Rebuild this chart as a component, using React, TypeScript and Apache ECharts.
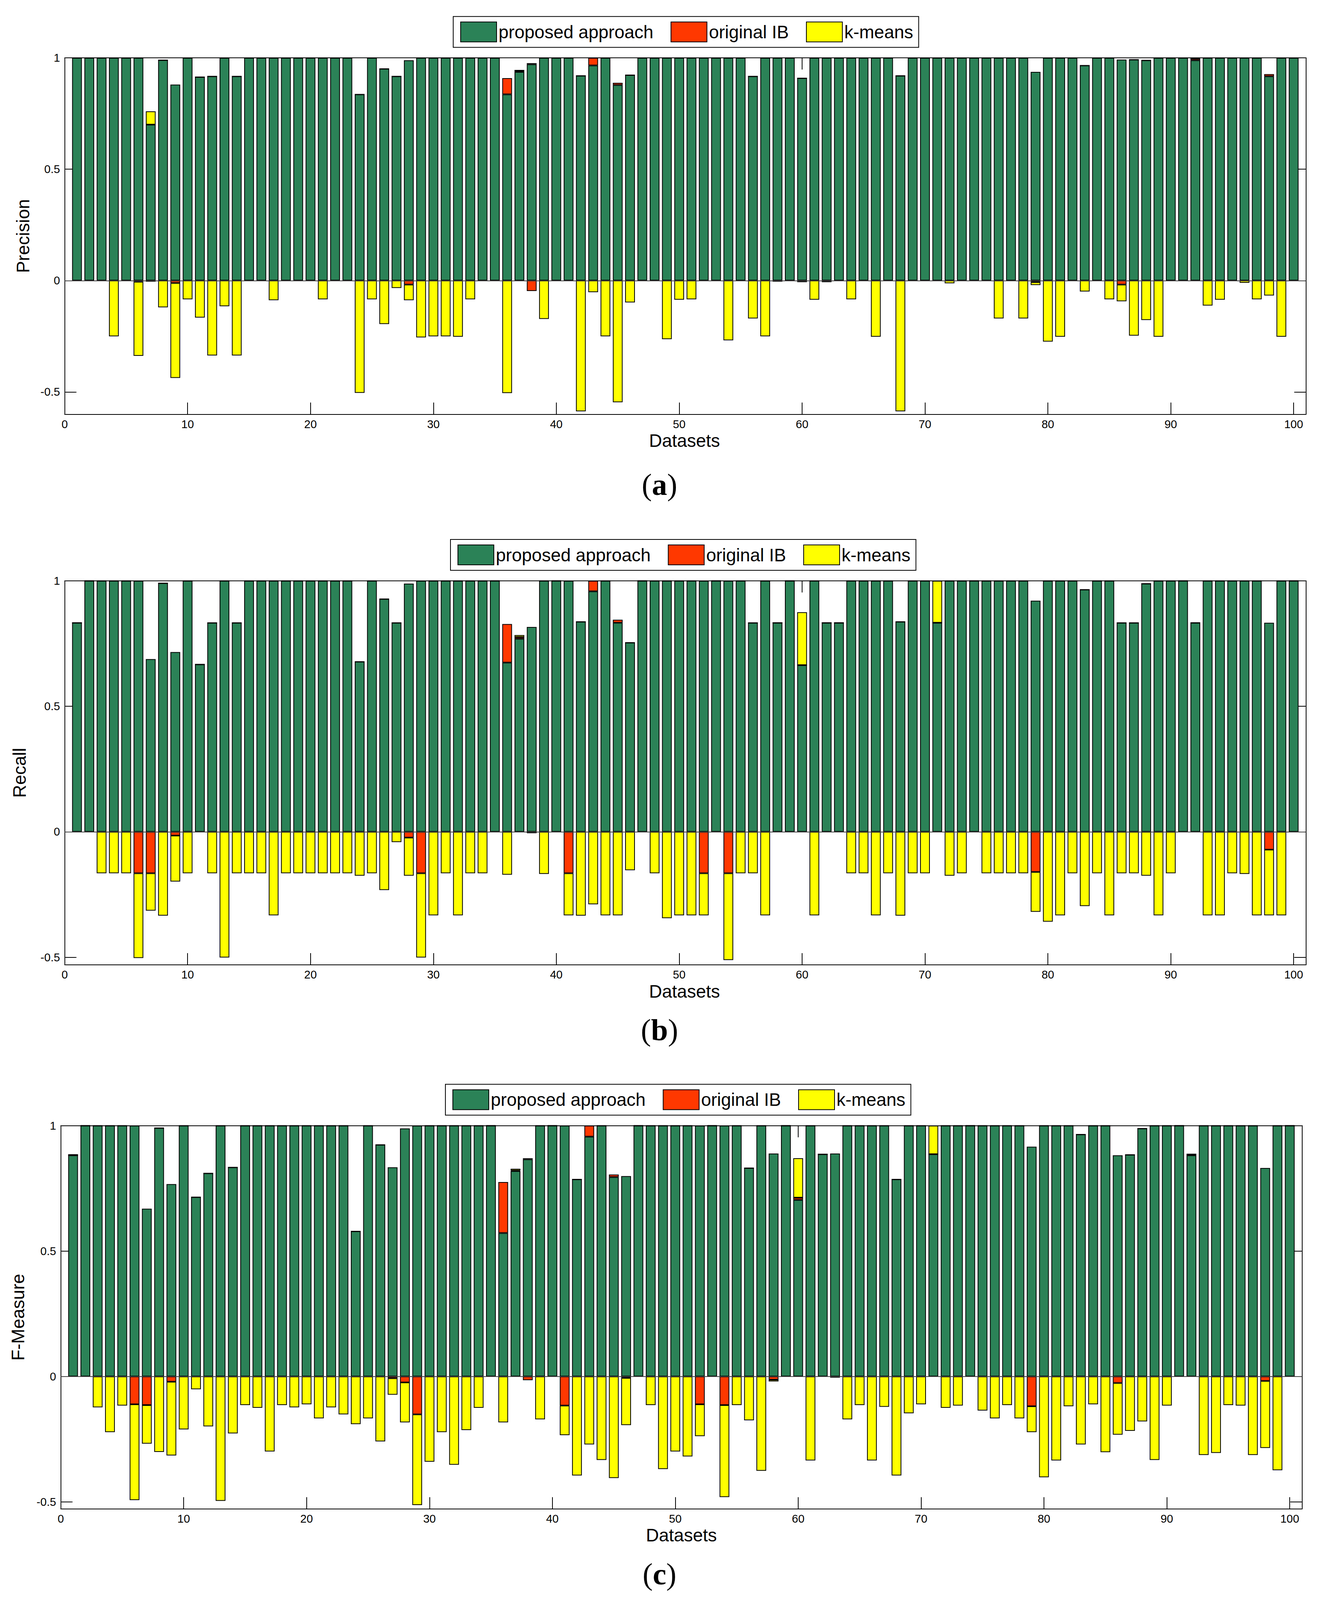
import React, { useEffect, useRef } from 'react';
import * as echarts from 'echarts';

// ---------- text / categories ----------
const SERIES_NAMES = ['proposed approach', 'original IB', 'k-means'];
const Y_LABELS = ['Precision', 'Recall', 'F-Measure'];
const CAPTION_LETTERS = ['a', 'b', 'c'];
const X_LABEL = 'Datasets';
const X_TICKS = [0, 10, 20, 30, 40, 50, 60, 70, 80, 90, 100];
const Y_TICKS = [-0.5, 0, 0.5, 1];
const Y_MINS = [-0.6, -0.53, -0.528];
const Y_MAX = 1;
const X_MIN = 0;
const X_MAX = 101;
// dataset positions 0..101 (0 and 101 are empty slots at the axis ends)
const X_CATEGORIES = Array.from({ length: 102 }, (_, k) => String(k));

// ---------- (a) Precision ----------
const precisionProposed = [
  1, 1, 1, 1, 1, 1, 0.70, 0.99, 0.88, 1,
  0.914, 0.917, 1, 0.917, 1, 1, 1, 1, 1, 1,
  1, 1, 1, 0.836, 1, 0.951, 0.917, 0.989, 1, 1,
  1, 1, 1, 1, 1, 0.836, 0.937, 0.971, 1, 1,
  1, 0.92, 0.966, 1, 0.878, 0.923, 1, 1, 1, 1,
  1, 1, 1, 1, 1, 0.917, 1, 1, 1, 0.909,
  1, 1, 1, 1, 1, 1, 1, 0.92, 1, 1,
  1, 1, 1, 1, 1, 1, 1, 1, 0.937, 1,
  1, 1, 0.966, 1, 1, 0.992, 0.992, 0.989, 1, 1,
  1, 0.989, 1, 1, 1, 1, 1, 0.917, 1, 1,
];
const precisionIB = [
  0, 0, 0, 0, 0, -0.005, -0.005, 0, -0.011, 0,
  0, 0, 0, 0, 0, 0, 0, 0, 0, 0,
  0, 0, 0, 0, 0, 0, 0, -0.018, 0, 0,
  0, 0, 0, 0, 0, 0.073, 0.007, -0.047, 0, 0,
  0, 0, 0.034, 0, 0.01, 0, 0, 0, 0, 0,
  0, 0, 0, 0, 0, 0, 0, 0, 0, 0,
  0, 0, 0, 0, 0, 0, 0, 0, 0, 0,
  0, 0, 0, 0, 0, 0, 0, 0, -0.007, 0,
  0, 0, 0, 0, 0, -0.018, 0, 0, 0, 0,
  0, 0.008, 0, 0, 0, 0, 0, 0.01, 0, 0,
];
const precisionKmeans = [
  0, 0, 0, -0.25, 0, -0.333, 0.06, -0.12, -0.426, -0.084,
  -0.166, -0.336, -0.115, -0.336, 0, 0, -0.088, 0, 0, 0,
  -0.084, 0, 0, -0.504, -0.084, -0.195, -0.033, -0.07, -0.255, -0.25,
  -0.25, -0.252, -0.084, 0, 0, -0.505, 0, 0.005, -0.172, 0,
  0, -0.587, -0.052, -0.25, -0.546, -0.098, 0, 0, -0.263, -0.086,
  -0.084, 0, 0, -0.268, 0, -0.17, -0.25, -0.005, 0, -0.007,
  -0.086, -0.007, 0, -0.084, 0, -0.252, 0, -0.587, 0, 0,
  0, -0.012, 0, 0, 0, -0.17, 0, -0.17, -0.013, -0.274,
  -0.252, 0, -0.049, 0, -0.084, -0.075, -0.247, -0.177, -0.252, 0,
  0, 0, -0.112, -0.086, 0, -0.01, -0.084, -0.067, -0.252, 0,
];

// ---------- (b) Recall ----------
const recallProposed = [
  0.833, 1, 1, 1, 1, 1, 0.688, 0.991, 0.716, 1,
  0.667, 0.833, 1, 0.833, 1, 1, 1, 1, 1, 1,
  1, 1, 1, 0.678, 1, 0.928, 0.833, 0.989, 1, 1,
  1, 1, 1, 1, 1, 0.674, 0.769, 0.816, 1, 1,
  1, 0.837, 0.958, 1, 0.833, 0.754, 1, 1, 1, 1,
  1, 1, 1, 1, 1, 0.833, 1, 0.833, 1, 0.664,
  1, 0.833, 0.833, 1, 1, 1, 1, 0.837, 1, 1,
  0.833, 1, 1, 1, 1, 1, 1, 1, 0.921, 1,
  1, 1, 0.965, 1, 1, 0.833, 0.833, 0.989, 1, 1,
  1, 0.833, 1, 1, 1, 1, 1, 0.833, 1, 1,
];
const recallIB = [
  0, 0, 0, 0, 0, -0.165, -0.165, 0, -0.015, 0,
  0, 0, 0, 0, 0, 0, 0, 0, 0, 0,
  0, 0, 0, 0, 0, 0, 0, -0.023, -0.165, 0,
  0, 0, 0, 0, 0, 0.154, 0.007, -0.004, 0, 0,
  -0.165, 0, 0.042, 0, 0.012, 0, 0, 0, 0, 0,
  0, -0.165, 0, -0.165, 0, 0, 0, 0, 0, 0,
  0, 0, 0, 0, 0, 0, 0, 0, 0, 0,
  0, 0, 0, 0, 0, 0, 0, 0, -0.16, 0,
  0, 0, 0, 0, 0, 0, 0, 0, 0, 0,
  0, 0, 0, 0, 0, 0, 0, -0.071, 0, 0,
];
const recallKmeans = [
  0, 0, -0.165, -0.165, -0.165, -0.338, -0.149, -0.334, -0.183, -0.165,
  0, -0.165, -0.501, -0.165, -0.165, -0.165, -0.333, -0.165, -0.165, -0.165,
  -0.165, -0.165, -0.165, -0.175, -0.165, -0.232, -0.041, -0.152, -0.336, -0.333,
  -0.165, -0.333, -0.165, -0.165, 0, -0.171, 0.008, 0, -0.168, 0,
  -0.168, -0.334, -0.289, -0.333, -0.333, -0.153, 0, -0.165, -0.344, -0.333,
  -0.333, -0.168, 0, -0.346, -0.165, -0.165, -0.333, 0, 0, 0.211,
  -0.333, 0, 0, -0.165, -0.165, -0.333, -0.165, -0.334, -0.165, -0.165,
  0.167, -0.175, -0.165, 0, -0.165, -0.165, -0.165, -0.165, -0.159, -0.358,
  -0.333, -0.165, -0.296, -0.165, -0.333, -0.165, -0.165, -0.175, -0.333, -0.165,
  0, 0, -0.333, -0.333, -0.165, -0.168, -0.333, -0.262, -0.333, 0,
];

// ---------- (c) F-Measure ----------
const fMeasureProposed = [
  0.882, 1, 1, 1, 1, 1, 0.669, 0.991, 0.767, 1,
  0.715, 0.81, 1, 0.834, 1, 1, 1, 1, 1, 1,
  1, 1, 1, 0.579, 1, 0.924, 0.834, 0.989, 1, 1,
  1, 1, 1, 1, 1, 0.572, 0.819, 0.866, 1, 1,
  1, 0.786, 0.956, 1, 0.795, 0.799, 1, 1, 1, 1,
  1, 1, 1, 1, 1, 0.831, 1, 0.889, 1, 0.704,
  1, 0.886, 0.889, 1, 1, 1, 1, 0.786, 1, 1,
  0.886, 1, 1, 1, 1, 1, 1, 1, 0.916, 1,
  1, 1, 0.965, 1, 1, 0.882, 0.884, 0.989, 1, 1,
  1, 0.882, 1, 1, 1, 1, 1, 0.831, 1, 1,
];
const fMeasureIB = [
  0, 0, 0, 0, 0, -0.111, -0.114, 0, -0.021, 0,
  0, 0, 0, 0, 0, 0, 0, 0, 0, 0,
  0, 0, 0, 0, 0, 0, -0.007, -0.024, -0.151, 0,
  0, 0, 0, 0, 0, 0.203, 0.002, -0.015, 0, 0,
  -0.116, 0, 0.044, 0, 0.01, -0.006, 0, 0, 0, 0,
  0, -0.111, 0, -0.114, 0, 0, 0, -0.013, 0, 0.009,
  0, 0, -0.003, 0, 0, 0, 0, 0, 0, 0,
  0, 0, 0, 0, 0, 0, 0, 0, -0.119, 0,
  0, 0, 0, 0, 0, -0.026, 0, 0, 0, 0,
  0, 0, 0, 0, 0, 0, 0, -0.018, 0, 0,
];
const fMeasureKmeans = [
  0.004, 0, -0.123, -0.222, -0.116, -0.382, -0.154, -0.301, -0.294, -0.211,
  -0.051, -0.199, -0.496, -0.227, -0.114, -0.125, -0.299, -0.114, -0.123, -0.111,
  -0.167, -0.123, -0.151, -0.19, -0.167, -0.259, -0.066, -0.159, -0.362, -0.34,
  -0.222, -0.352, -0.214, -0.125, 0, -0.183, 0.007, 0.004, -0.171, 0,
  -0.118, -0.395, -0.271, -0.333, -0.405, -0.188, 0, -0.114, -0.369, -0.299,
  -0.319, -0.127, 0, -0.367, -0.114, -0.175, -0.376, -0.007, 0, 0.157,
  -0.335, 0, 0, -0.171, -0.114, -0.335, -0.121, -0.395, -0.147, -0.111,
  0.114, -0.125, -0.116, 0, -0.136, -0.167, -0.114, -0.167, -0.103, -0.402,
  -0.335, -0.119, -0.271, -0.111, -0.302, -0.206, -0.217, -0.179, -0.333, -0.116,
  0, 0.006, -0.313, -0.305, -0.114, -0.116, -0.313, -0.267, -0.374, 0,
];

const PANEL_DATA = [
  [precisionProposed, precisionIB, precisionKmeans],
  [recallProposed, recallIB, recallKmeans],
  [fMeasureProposed, fMeasureIB, fMeasureKmeans],
];

// ---------- styles / layout ----------
const COLORS = ['#2B8257', '#FF3800', '#FFFF00'];
const SANS = '"Liberation Sans", Arial, Helvetica, sans-serif';
const SERIF = '"Liberation Serif", "Times New Roman", serif';
const PAGE_W = 3376;
const PAGE_H = 4179;

const LAYOUT = [
  { left: 165.6, top: 151, width: 3177, height: 931, legendLeft: 1160, legendTop: 43, yLabelX: 59, xLabelX: 1752, xLabelY: 1151, captionY: 1266 },
  { left: 165.6, top: 1517, width: 3177, height: 1003, legendLeft: 1153, legendTop: 1409, yLabelX: 50, xLabelX: 1752, xLabelY: 2589, captionY: 2690 },
  { left: 155.6, top: 2940, width: 3177, height: 1001, legendLeft: 1140, legendTop: 2832, yLabelX: 46, xLabelX: 1744, xLabelY: 4010, captionY: 4111 },
];

function buildOption(sy: number) {
  const grid: any[] = [];
  const xAxis: any[] = [];
  const yAxis: any[] = [];
  const series: any[] = [];
  const legend: any[] = [];
  const graphic: any[] = [];

  const axisLine = { show: true, onZero: false, lineStyle: { color: '#000', width: 2 } };
  const tickStyle = { color: '#000', width: 2 };

  LAYOUT.forEach((L, i) => {
    const top = L.top * sy;
    const height = L.height * sy;
    grid.push({ left: L.left, top, width: L.width, height, containLabel: false });

    // hidden category axis that positions the bars at datasets 1..100
    xAxis.push({
      type: 'category', gridIndex: i, data: X_CATEGORIES, boundaryGap: false, show: false,
      axisLine: { show: false }, axisTick: { show: false }, axisLabel: { show: false },
    });
    // visible bottom value axis
    xAxis.push({
      type: 'value', gridIndex: i, position: 'bottom', min: X_MIN, max: X_MAX,
      axisLine,
      axisTick: { show: true, inside: true, length: 30, customValues: X_TICKS, lineStyle: tickStyle },
      axisLabel: { show: true, customValues: X_TICKS, fontSize: 29, fontFamily: SANS, color: '#000', margin: 11 },
      splitLine: { show: false },
    });
    // top value axis (box + mirrored ticks)
    xAxis.push({
      type: 'value', gridIndex: i, position: 'top', min: X_MIN, max: X_MAX,
      axisLine,
      axisTick: { show: true, inside: true, length: 30, customValues: X_TICKS, lineStyle: tickStyle },
      axisLabel: { show: false },
      splitLine: { show: false },
    });
    // left y axis
    yAxis.push({
      type: 'value', gridIndex: i, position: 'left', min: Y_MINS[i], max: Y_MAX,
      axisLine,
      axisTick: { show: true, inside: true, length: 30, customValues: Y_TICKS, lineStyle: tickStyle },
      axisLabel: {
        show: true, customValues: Y_TICKS, fontSize: 29, fontFamily: SANS, color: '#000', margin: 12,
        formatter: (v: number) => String(v),
      },
      splitLine: { show: false },
    });
    // right y axis
    yAxis.push({
      type: 'value', gridIndex: i, position: 'right', min: Y_MINS[i], max: Y_MAX,
      axisLine,
      axisTick: { show: true, inside: true, length: 30, customValues: Y_TICKS, lineStyle: tickStyle },
      axisLabel: { show: false },
      splitLine: { show: false },
    });

    PANEL_DATA[i].forEach((values, s) => {
      const ser: any = {
        type: 'bar',
        name: SERIES_NAMES[s],
        xAxisIndex: 3 * i,
        yAxisIndex: 2 * i,
        stack: 'panel' + i,
        stackStrategy: 'samesign',
        barWidth: 25,
        data: ['-', ...values, '-'],
        itemStyle: { color: COLORS[s], borderColor: '#000', borderWidth: 2 },
        emphasis: { disabled: true },
      };
      if (s === 0) {
        ser.markLine = {
          silent: true,
          symbol: ['none', 'none'],
          label: { show: false },
          lineStyle: { color: '#444', width: 2, type: 'solid' },
          data: [{ yAxis: 0 }],
        };
      }
      series.push(ser);
    });

    legend.push({
      left: L.legendLeft,
      top: L.legendTop * sy,
      orient: 'horizontal',
      data: SERIES_NAMES,
      icon: 'rect',
      itemWidth: 92,
      itemHeight: 51,
      itemGap: 44,
      padding: [13, 14, 13, 18],
      borderColor: '#000',
      borderWidth: 2,
      backgroundColor: '#fff',
      selectedMode: false,
      textStyle: { fontSize: 46, fontFamily: SANS, color: '#000' },
    });

    // y label
    graphic.push({
      type: 'text',
      x: L.yLabelX,
      y: top + height / 2,
      rotation: Math.PI / 2,
      style: { text: Y_LABELS[i], fontSize: 46, fontFamily: SANS, fill: '#000', align: 'center', verticalAlign: 'middle' },
    });
    // x label
    graphic.push({
      type: 'text',
      x: L.xLabelX,
      y: L.xLabelY * sy,
      style: { text: X_LABEL, fontSize: 46, fontFamily: SANS, fill: '#000', align: 'center', verticalAlign: 'middle' },
    });
    // caption
    graphic.push({
      type: 'text',
      x: PAGE_W / 2,
      y: L.captionY * sy,
      style: {
        text: '{p|(}{b|' + CAPTION_LETTERS[i] + '}{p|)}',
        fontSize: 78,
        fontFamily: SERIF,
        fontWeight: 'normal',
        fill: '#000',
        align: 'center',
        verticalAlign: 'middle',
        rich: {
          p: { fontSize: 78, fontFamily: SERIF, fontWeight: 'normal', fill: '#000' },
          b: { fontSize: 78, fontFamily: SERIF, fontWeight: 'bold', fill: '#000' },
        },
      },
    });
  });

  return {
    animation: false,
    backgroundColor: '#fff',
    grid,
    xAxis,
    yAxis,
    series,
    legend,
    graphic,
  };
}

export default function App() {
  const ref = useRef<HTMLDivElement>(null);
  const viewH = typeof window !== 'undefined' && window.innerHeight ? Math.min(window.innerHeight, PAGE_H) : PAGE_H;
  const sy = viewH / PAGE_H;
  useEffect(() => {
    if (!ref.current) return;
    const chart = echarts.init(ref.current, null, { renderer: 'svg' });
    chart.setOption(buildOption(sy) as any);
    return () => chart.dispose();
  }, []);
  return (
    <div
      ref={ref}
      style={{ position: 'absolute', left: 0, top: 0, width: PAGE_W, height: viewH, background: '#fff' }}
    />
  );
}
